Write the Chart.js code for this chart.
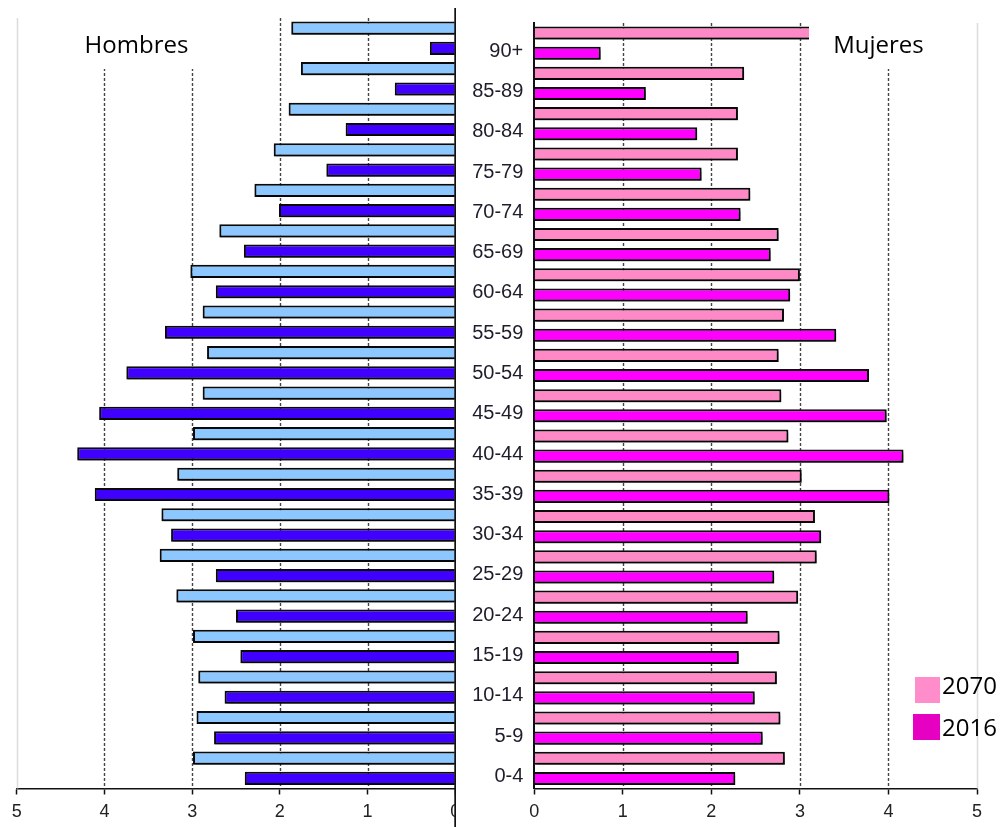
<!DOCTYPE html>
<html>
<head>
<meta charset="utf-8">
<script src="https://cdn.jsdelivr.net/npm/chart.js@4.4.1/dist/chart.umd.min.js"></script>
<style>
  html, body { margin: 0; padding: 0; background: #fff; }
  #wrap { position: relative; width: 1003px; height: 827px; overflow: hidden; background: #fff; }
  #men { position: absolute; left: 0; top: 0; }
  #women { position: absolute; left: 456px; top: 0; background: #fff; }
</style>
</head>
<body>
<div id="wrap">
  <canvas id="men" width="470" height="827"></canvas>
  <canvas id="women" width="547" height="827"></canvas>
</div>
<script>
// Age groups, oldest at the top
const ageGroups = ['90+', '85-89', '80-84', '75-79', '70-74', '65-69', '60-64', '55-59', '50-54',
  '45-49', '40-44', '35-39', '30-34', '25-29', '20-24', '15-19', '10-14', '5-9', '0-4'];

// Share of the population (%) per age group
const men2070   = [1.87, 1.76, 1.90, 2.07, 2.29, 2.69, 3.02, 2.88, 2.83, 2.88, 2.99, 3.17, 3.35, 3.37, 3.18, 2.99, 2.93, 2.95, 2.99];
const men2016   = [0.29, 0.69, 1.25, 1.47, 2.01, 2.41, 2.73, 3.31, 3.75, 4.06, 4.31, 4.11, 3.24, 2.73, 2.50, 2.45, 2.63, 2.75, 2.40];
const women2070 = [3.30, 2.37, 2.30, 2.30, 2.44, 2.76, 3.00, 2.82, 2.76, 2.79, 2.87, 3.02, 3.17, 3.19, 2.98, 2.77, 2.74, 2.78, 2.83];
const women2016 = [0.75, 1.26, 1.84, 1.89, 2.33, 2.67, 2.89, 3.41, 3.78, 3.98, 4.17, 4.01, 3.24, 2.71, 2.41, 2.31, 2.49, 2.58, 2.27];

const years = ['2070', '2016'];
const sideTitles = ['Hombres', 'Mujeres'];
const xTickValues = [0, 1, 2, 3, 4, 5];

// Each age group takes two rows: the 2070 bar above, the 2016 bar (with the label) below
const rowLabels = [];
ageGroups.forEach(g => rowLabels.push('', g));
function toRows(values, slot) {
  const out = [];
  values.forEach(v => { if (slot === 0) out.push(v, null); else out.push(null, v); });
  return out;
}

Chart.defaults.font.family = '"Liberation Sans", Arial, sans-serif';
Chart.defaults.color = '#222';

const TEXT_FONT = '"Open Sans", "Noto Sans", sans-serif';
const TOP = 18, BOTTOM_AXIS_H = 38.5;

function barSet(label, values, slot, fill) {
  return {
    label, data: toRows(values, slot),
    backgroundColor: fill, borderColor: '#0a0a0a', borderWidth: 2,
    grouped: false, categoryPercentage: 1, barPercentage: 0.65
  };
}

// Dashed vertical grid + bar shadows
function gridAndShadow() {
  return {
    id: 'gridAndShadow',
    beforeDatasetsDraw(chart) {
      const { ctx, chartArea, scales: { x } } = chart;
      xTickValues.forEach(v => {
        if (v === 0) return;
        const px = Math.round(x.getPixelForValue(v)) + 0.5;
        ctx.save();
        ctx.beginPath();
        if (v === 5) { ctx.strokeStyle = '#dcdcdc'; ctx.lineWidth = 1.5; ctx.setLineDash([]); }
        else { ctx.strokeStyle = '#444'; ctx.lineWidth = 1.4; ctx.setLineDash([3, 2]); }
        ctx.moveTo(px, chartArea.top);
        ctx.lineTo(px, chartArea.bottom);
        ctx.stroke();
        ctx.restore();
      });
      ctx.save();
      ctx.shadowColor = 'rgba(0,0,0,0.5)';
      ctx.shadowBlur = 2.5;
      ctx.shadowOffsetX = 1;
      ctx.shadowOffsetY = 3;
    },
    afterDatasetsDraw(chart) { chart.ctx.restore(); }
  };
}

function titleBox(ctx, rect, text, cx) {
  ctx.save();
  ctx.fillStyle = '#fff';
  ctx.fillRect(rect[0], rect[1], rect[2], rect[3]);
  ctx.fillStyle = '#000';
  ctx.font = '24px ' + TEXT_FONT;
  ctx.textAlign = 'center';
  ctx.textBaseline = 'alphabetic';
  ctx.fillText(text, cx, 53);
  ctx.restore();
}

function xScale(reverse) {
  return {
    type: 'linear', min: 0, max: 5, reverse,
    ticks: { stepSize: 1, padding: 7, font: { size: 18 }, color: '#222' },
    grid: { drawOnChartArea: false, drawTicks: true, tickLength: 6, tickColor: '#111', tickWidth: 1.5 },
    border: { display: true, color: '#111', width: 1.5 },
    afterFit(s) { s.height = BOTTOM_AXIS_H; }
  };
}

// Men (left half, axis running 5 → 0)
new Chart(document.getElementById('men'), {
  type: 'bar',
  data: {
    labels: rowLabels,
    datasets: [
      barSet(years[0], men2070, 0, '#8cc8ff'),
      barSet(years[1], men2016, 1, '#3f00ff')
    ]
  },
  options: {
    indexAxis: 'y', responsive: false, animation: false,
    layout: { padding: { left: 16.7, right: 14.7, top: TOP, bottom: 0 } },
    scales: {
      x: xScale(true),
      y: { type: 'category', display: false }
    },
    plugins: { legend: { display: false }, tooltip: { enabled: false } }
  },
  plugins: [gridAndShadow(), {
    id: 'menDecor',
    afterDraw(chart) {
      const { ctx, scales: { x } } = chart;
      titleBox(ctx, [25, 0, 250, 69], sideTitles[0], 136.5);
      const px = x.getPixelForValue(0);
      ctx.save();
      ctx.strokeStyle = '#111';
      ctx.lineWidth = 2;
      ctx.beginPath();
      ctx.moveTo(px, 8);
      ctx.lineTo(px, 827);
      ctx.stroke();
      ctx.restore();
    }
  }]
});

// Women (right half, with the age labels on its left axis)
const womenColors = ['#ff88c6', '#ff00ff'];
const legendColors = ['#ff8ccb', '#e600c2'];
new Chart(document.getElementById('women'), {
  type: 'bar',
  data: {
    labels: rowLabels,
    datasets: [
      barSet(years[0], women2070, 0, womenColors[0]),
      barSet(years[1], women2016, 1, womenColors[1])
    ]
  },
  options: {
    indexAxis: 'y', responsive: false, animation: false,
    layout: { padding: { left: 0, right: 26, top: TOP, bottom: 0 } },
    scales: {
      x: xScale(false),
      y: {
        type: 'category',
        ticks: { autoSkip: false, padding: 11, labelOffset: -2, font: { size: 20 }, color: '#1d1d2b' },
        grid: { drawOnChartArea: false, drawTicks: false },
        border: { display: true, color: '#111', width: 2 },
        afterFit(s) { s.width = 78.3; }
      }
    },
    plugins: { legend: { display: false }, tooltip: { enabled: false } }
  },
  plugins: [gridAndShadow(), {
    id: 'womenDecor',
    afterDraw(chart) {
      const { ctx } = chart;
      titleBox(ctx, [353, 0, 156, 69], sideTitles[1], 422.5);
      // legend
      const items = chart.data.datasets;
      const boxes = [[459, 677, 25, 26], [457, 714, 27, 26]];
      const baselines = [694, 736];
      ctx.save();
      items.forEach((ds, i) => {
        const b = boxes[i];
        ctx.fillStyle = legendColors[i];
        ctx.fillRect(b[0], b[1], b[2], b[3]);
        ctx.fillStyle = '#000';
        ctx.font = '24px ' + TEXT_FONT;
        ctx.textAlign = 'left';
        ctx.textBaseline = 'alphabetic';
        ctx.fillText(ds.label, 486, baselines[i]);
      });
      ctx.restore();
    }
  }]
});
</script>
</body>
</html>
